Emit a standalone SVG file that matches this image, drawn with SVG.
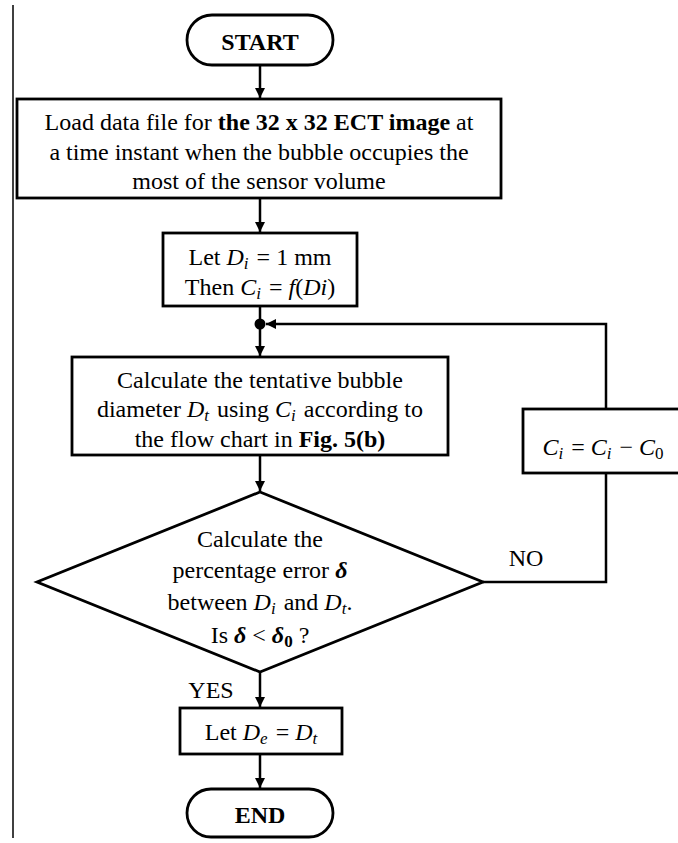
<svg xmlns="http://www.w3.org/2000/svg" width="678" height="843" viewBox="0 0 678 843">
<style>
.t{font-family:"Liberation Serif","Times New Roman",serif;font-size:24px;fill:#000;text-anchor:middle}
.b{font-weight:bold}
.m{font-style:italic}
.s{font-size:17px}
.box{fill:#fff;stroke:#000;stroke-width:2.8}
.ln{fill:none;stroke:#000;stroke-width:2.5}
</style>
<defs>
<marker id="ah" markerUnits="userSpaceOnUse" markerWidth="10" markerHeight="12" refX="10" refY="5" orient="auto">
<path d="M0,0 L10,5 L0,10 z" fill="#000"/>
</marker>
</defs>
<line x1="13" y1="5" x2="13" y2="838" stroke="#000" stroke-width="1.5"/>
<g id="connectors">
<line class="ln" x1="260" y1="65" x2="260" y2="98" marker-end="url(#ah)"/>
<line class="ln" x1="260" y1="198" x2="260" y2="232" marker-end="url(#ah)"/>
<line class="ln" x1="260" y1="306" x2="260" y2="324"/>
<line class="ln" x1="260" y1="324" x2="260" y2="356" marker-end="url(#ah)"/>
<line class="ln" x1="260" y1="455" x2="260" y2="491" marker-end="url(#ah)"/>
<line class="ln" x1="260" y1="672" x2="260" y2="707" marker-end="url(#ah)"/>
<line class="ln" x1="260" y1="754" x2="260" y2="788" marker-end="url(#ah)"/>
<polyline class="ln" points="483,582 606,582 606,473"/>
<polyline class="ln" points="606,409 606,324 266,324" marker-end="url(#ah)"/>
<circle cx="260" cy="324" r="5.5" fill="#000"/>
<text class="t" x="526" y="566">NO</text>
<text class="t" x="211" y="698">YES</text>
</g>
<g id="start">
<rect class="box" x="187" y="15" width="146" height="50" rx="25"/>
<text class="t b" x="260" y="50">START</text>
</g>
<g id="load">
<rect class="box" x="17" y="99" width="484" height="99" stroke-width="3.2"/>
<text class="t" x="259" y="130">Load data file for <tspan class="b">the 32 x 32 ECT image</tspan> at</text>
<text class="t" x="259" y="160">a time instant when the bubble occupies the</text>
<text class="t" x="259" y="189">most of the sensor volume</text>
</g>
<g id="init">
<rect class="box" x="163" y="233" width="194" height="73"/>
<text class="t" x="260" y="265">Let <tspan class="m">D</tspan><tspan class="m s" dy="4">i</tspan><tspan dy="-4" dx="2"> = 1 mm</tspan></text>
<text class="t" x="260" y="295">Then <tspan class="m">C</tspan><tspan class="m s" dy="4">i</tspan><tspan dy="-4" dx="2"> = </tspan><tspan class="m">f</tspan>(<tspan class="m">Di</tspan>)</text>
</g>
<g id="calc">
<rect class="box" x="72" y="357" width="376" height="98"/>
<text class="t" x="260" y="388">Calculate the tentative bubble</text>
<text class="t" x="260" y="417">diameter <tspan class="m">D</tspan><tspan class="m s" dy="4">t</tspan><tspan dy="-4" dx="2"> using </tspan><tspan class="m">C</tspan><tspan class="m s" dy="4">i</tspan><tspan dy="-4" dx="2"> according to</tspan></text>
<text class="t" x="260" y="447">the flow chart in <tspan class="b">Fig. 5(b)</tspan></text>
</g>
<g id="update">
<rect class="box" x="523" y="409" width="200" height="64"/>
<text class="t" x="603" y="455"><tspan class="m">C</tspan><tspan class="m s" dy="4">i</tspan><tspan dy="-4" dx="2"> = </tspan><tspan class="m">C</tspan><tspan class="m s" dy="4">i</tspan><tspan dy="-4" dx="2"> − </tspan><tspan class="m">C</tspan><tspan class="s" dy="4">0</tspan></text>
</g>
<g id="decision">
<polygon class="box" points="260,492 483,582 260,672 37,582"/>
<text class="t" x="260" y="547">Calculate the</text>
<text class="t" x="260" y="578">percentage error <tspan class="b m">δ</tspan></text>
<text class="t" x="260" y="610">between <tspan class="m">D</tspan><tspan class="m s" dy="4">i</tspan><tspan dy="-4" dx="2"> and </tspan><tspan class="m">D</tspan><tspan class="m s" dy="4">t</tspan><tspan dy="-4">.</tspan></text>
<text class="t" x="260" y="643">Is <tspan class="b m">δ</tspan> &lt; <tspan class="b m">δ</tspan><tspan class="b s" dy="4">0</tspan><tspan dy="-4"> ?</tspan></text>
</g>
<g id="result">
<rect class="box" x="180" y="708" width="162" height="46"/>
<text class="t" x="261" y="740">Let <tspan class="m">D</tspan><tspan class="m s" dy="4">e</tspan><tspan dy="-4" dx="2"> = </tspan><tspan class="m">D</tspan><tspan class="m s" dy="4">t</tspan></text>
</g>
<g id="end">
<rect class="box" x="187" y="789" width="146" height="48" rx="24"/>
<text class="t b" x="260" y="823">END</text>
</g>
</svg>
